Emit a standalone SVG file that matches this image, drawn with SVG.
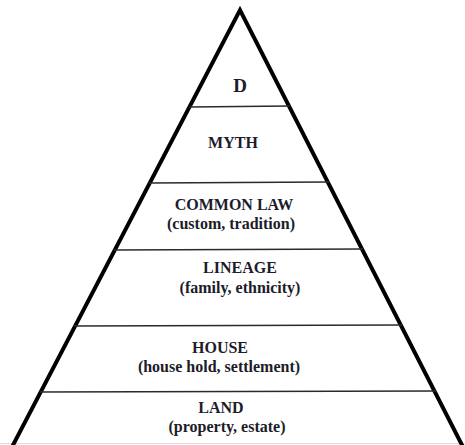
<svg xmlns="http://www.w3.org/2000/svg" width="465" height="445" viewBox="0 0 465 445">
<style>
.side{fill:none;stroke:#000;stroke-width:4;stroke-linejoin:miter}
.div{stroke:#2a2a2a;stroke-width:1.6}
.t{font-family:"Liberation Serif","Times New Roman",serif;font-weight:bold;font-size:16px;fill:#1c1c2a;text-anchor:middle}
</style>
<rect width="465" height="445" fill="#fff"/>
<line x1="0" y1="443.5" x2="465" y2="443.5" stroke="#dcdcdc" stroke-width="1"/>
<g id="connectors">
<polyline class="side" points="12,447 240,10 463,447"/>
<line class="div" x1="189" y1="107" x2="290" y2="106"/>
<line class="div" x1="149" y1="183" x2="329" y2="182"/>
<line class="div" x1="114" y1="250" x2="363" y2="249"/>
<line class="div" x1="74" y1="326" x2="402" y2="325"/>
<line class="div" x1="40" y1="392" x2="436" y2="391"/>
</g>
<g id="node-d"><text class="t" x="240" y="92" style="font-size:19px">D</text></g>
<g id="node-myth"><text class="t" x="233" y="148">MYTH</text></g>
<g id="node-common-law"><text class="t" x="234" y="210">COMMON LAW</text><text class="t" x="231" y="229">(custom, tradition)</text></g>
<g id="node-lineage"><text class="t" x="240" y="273">LINEAGE</text><text class="t" x="240" y="293">(family, ethnicity)</text></g>
<g id="node-house"><text class="t" x="220" y="353">HOUSE</text><text class="t" x="219" y="372">(house hold, settlement)</text></g>
<g id="node-land"><text class="t" x="221" y="413">LAND</text><text class="t" x="227" y="432">(property, estate)</text></g>
</svg>
